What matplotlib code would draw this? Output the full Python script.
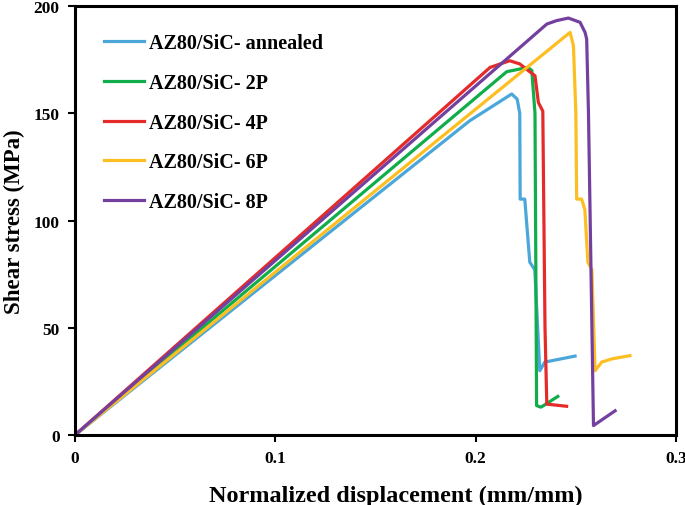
import matplotlib
matplotlib.use("Agg")
import matplotlib.pyplot as plt

# Shear stress curves
annealed_x = [0.0, 0.197, 0.218, 0.2207, 0.222, 0.2222, 0.2245, 0.227, 0.2295, 0.232, 0.2345, 0.2496]
annealed_y = [0.0, 146.5, 159.0, 156.6, 150.0, 110.0, 110.0, 80.6, 77.0, 30.0, 34.0, 36.8]

p2_x = [0.0, 0.2155, 0.226, 0.228, 0.2296, 0.2304, 0.2325, 0.2335, 0.241]
p2_y = [0.0, 169.4, 171.4, 170.0, 150.0, 13.7, 13.0, 13.5, 18.0]

p4_x = [0.0, 0.2072, 0.217, 0.222, 0.2296, 0.2313, 0.2335, 0.2346, 0.2355, 0.2454]
p4_y = [0.0, 171.4, 174.5, 173.0, 167.5, 155.0, 151.0, 50.0, 14.4, 13.4]

p6_x = [0.0, 0.2471, 0.2488, 0.2500, 0.2504, 0.2529, 0.2545, 0.256, 0.258, 0.2596, 0.2629, 0.268, 0.277]
p6_y = [0.0, 187.7, 181.5, 150.0, 110.0, 110.0, 105.0, 80.6, 77.0, 30.0, 34.0, 35.5, 37.0]

p8_x = [0.0, 0.2355, 0.2404, 0.2463, 0.2521, 0.2546, 0.2554, 0.2563, 0.2588, 0.2696]
p8_y = [0.0, 191.6, 193.2, 194.4, 192.4, 187.7, 184.6, 150.0, 4.4, 11.3]

labels = ["AZ80/SiC- annealed", "AZ80/SiC- 2P", "AZ80/SiC- 4P", "AZ80/SiC- 6P", "AZ80/SiC- 8P"]
colors = ["#4BA6DA", "#12AD4B", "#E52A2A", "#FDBE22", "#7440A0"]
xticks = [0, 0.1, 0.2, 0.3]
xticklabels = ["0", "0.1", "0.2", "0.3"]
yticks = [0, 50, 100, 150, 200]

plt.rcParams["font.family"] = ["Liberation Serif", "DejaVu Serif"]
plt.rcParams["font.weight"] = "bold"

fig = plt.figure(figsize=(6.85, 5.06), dpi=100)
ax = fig.add_axes([0.1095, 0.1383, 0.8774, 0.8478])

series = [(annealed_x, annealed_y), (p2_x, p2_y), (p4_x, p4_y), (p6_x, p6_y), (p8_x, p8_y)]
for (xs, ys), lab, col in zip(series, labels, colors):
    ax.plot(xs, ys, color=col, linewidth=2.3, label=lab, solid_joinstyle="round")

ax.set_xlim(0, 0.3)
ax.set_ylim(0, 200)
ax.set_xticks(xticks)
ax.set_xticklabels(xticklabels)
ax.set_yticks(yticks)
ax.tick_params(direction="out", length=5, width=1.5, labelsize=12.5, pad=6)
for lab in ax.get_xticklabels() + ax.get_yticklabels():
    lab.set_fontweight("bold")
for sp in ax.spines.values():
    sp.set_linewidth(2.2)

ax.set_xlabel("Normalized displacement (mm/mm)", fontsize=17.5, fontweight="bold")
ax.xaxis.set_label_coords(0.534, -0.115)
ax.set_ylabel("Shear stress (MPa)", fontsize=16.5, fontweight="bold", labelpad=6)

ax.legend(loc="upper left", bbox_to_anchor=(0.028, 0.965), frameon=False,
          prop={"size": 14.5, "weight": "bold"}, handlelength=2.0, handletextpad=0.25,
          labelspacing=0.98, borderaxespad=0.2)

fig.savefig("out.png", dpi=100)
